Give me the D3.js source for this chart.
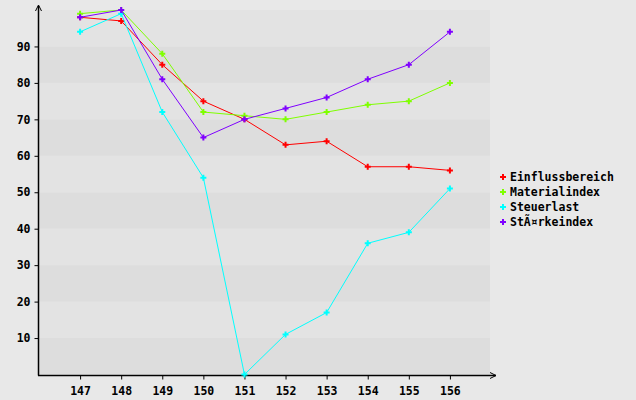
<!DOCTYPE html>
<html>
<head>
<meta charset="utf-8">
<script src="https://cdn.jsdelivr.net/npm/d3@7"></script>
<style>
  body { margin: 0; background: #e8e8e8; }
  svg { display: block; }
  text { font-family: "DejaVu Sans Mono", monospace; font-weight: bold; font-size: 11.5px; fill: #000; }
</style>
</head>
<body>
<div id="chart"></div>
<script>
"use strict";
(function(){
    // data
    const years = [147, 148, 149, 150, 151, 152, 153, 154, 155, 156]
    const einfluss = [98, 97, 85, 75, 70, 63, 64, 57, 57, 56]
    const material = [99, 100, 88, 72, 71, 70, 72, 74, 75, 80]
    const steuer = [94, 99, 72, 54, 0, 11, 17, 36, 39, 51]
    const staerke = [98, 100, 81, 65, 70, 73, 76, 81, 85, 94]
    const seriesNames = ["Einflussbereich", "Materialindex", "Steuerlast", "StÃ¤rkeindex"]
    const seriesColors = ["#ff0000", "#7fff00", "#00ffff", "#7f00ff"]
    const yTicks = [10, 20, 30, 40, 50, 60, 70, 80, 90]

    const series = [einfluss, material, steuer, staerke].map((vals, i) => ({
        name: seriesNames[i], color: seriesColors[i],
        values: vals.map((v, j) => ({ x: years[j], y: v }))
    }))

    const measurements = { width: 636, height: 400, left: 38, right: 490, top: 10, bottom: 375 }

    const svg = d3.select("#chart").append("svg")
        .attr("width", measurements.width)
        .attr("height", measurements.height)

    svg.append("rect").attr("width", 636).attr("height", 400).attr("fill", "#e8e8e8")

    const scaleX = d3.scaleLinear().domain([146, 157]).range([measurements.left + 1, measurements.right + 1])
    const scaleY = d3.scaleLinear().domain([0, 100]).range([measurements.bottom - 0.5, measurements.top])

    // striped background bands
    const bands = d3.range(0, 100, 10)
    svg.selectAll(".band").data(bands).enter().append("rect")
        .attr("x", measurements.left)
        .attr("width", measurements.right - measurements.left)
        .attr("y", d => scaleY(d + 10))
        .attr("height", d => scaleY(d) - scaleY(d + 10))
        .attr("fill", d => (d / 10) % 2 === 0 ? "#dddddd" : "#e3e3e3")

    // axes
    const xAxis = d3.axisBottom(scaleX).tickValues(years).tickSize(4).tickFormat(d3.format("d"))
    const gx = svg.append("g").attr("transform", "translate(0," + (measurements.bottom + 0.5) + ")").call(xAxis)
    gx.select(".domain").remove()
    gx.selectAll("text").attr("dy", "1.1em").style("font-size", "11.5px").style("font-family", "DejaVu Sans Mono")
    gx.selectAll("line").attr("stroke", "#000")

    const yAxis = d3.axisLeft(scaleY).tickValues(yTicks).tickSize(4)
    const gy = svg.append("g").attr("transform", "translate(" + (measurements.left + 0.5) + ",0)").call(yAxis)
    gy.select(".domain").remove()
    gy.selectAll("text").attr("x", -8).style("font-size", "11.5px").style("font-family", "DejaVu Sans Mono")

    // axis lines with arrows
    svg.append("line").attr("x1", measurements.left + 0.5).attr("x2", measurements.left + 0.5)
        .attr("y1", 6).attr("y2", measurements.bottom + 0.5).attr("stroke", "#000").attr("stroke-width", 1.5)
    svg.append("path").attr("d", "M" + (measurements.left - 2.5) + ",11 L" + (measurements.left + 0.5) + ",5 L" + (measurements.left + 3.5) + ",11")
        .attr("fill", "none").attr("stroke", "#000")
    svg.append("line").attr("x1", measurements.left).attr("x2", measurements.right + 6)
        .attr("y1", measurements.bottom + 0.5).attr("y2", measurements.bottom + 0.5).attr("stroke", "#000").attr("stroke-width", 1.5)
    svg.append("path").attr("d", "M" + (measurements.right) + "," + (measurements.bottom - 2.5) + " L" + (measurements.right + 6) + "," + (measurements.bottom + 0.5) + " L" + (measurements.right) + "," + (measurements.bottom + 3.5))
        .attr("fill", "none").attr("stroke", "#000")

    // lines
    const line = d3.line().x(d => scaleX(d.x)).y(d => scaleY(d.y))
    const marker = d3.symbol().type(d3.symbolCross).size(20)

    series.forEach(s => {
        svg.append("path").datum(s.values)
            .attr("d", line)
            .attr("fill", "none")
            .attr("stroke", s.color)
            .attr("stroke-width", 1)
        svg.selectAll(null).data(s.values).enter().append("path")
            .attr("d", marker)
            .attr("transform", d => "translate(" + scaleX(d.x) + "," + scaleY(d.y) + ")")
            .attr("fill", s.color)
    })

    // legend
    const legend = svg.selectAll(".legend").data(series).enter().append("g")
        .attr("transform", (d, i) => "translate(503," + (177 + i * 15) + ")")
    legend.append("path").attr("d", marker).attr("fill", d => d.color)
    legend.append("text").attr("x", 7).attr("dy", "0.35em").text(d => d.name)
})()
</script>
</body>
</html>
